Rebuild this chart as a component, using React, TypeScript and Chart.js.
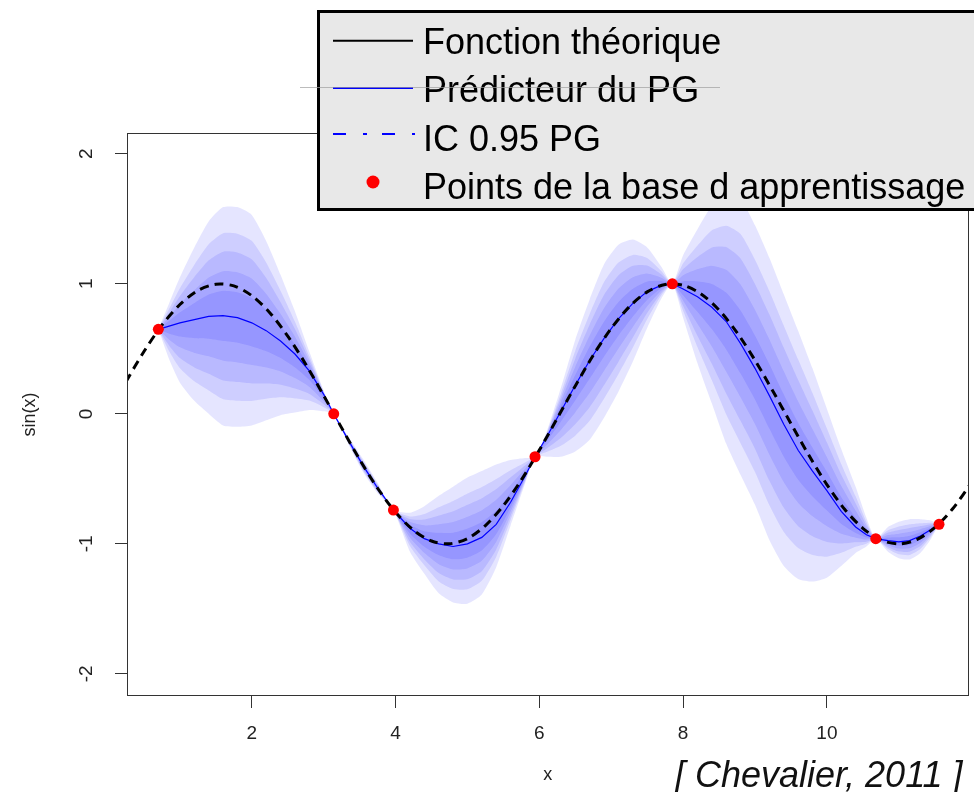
import { useEffect, useRef } from 'react';
import { Chart, registerables } from 'chart.js';

Chart.register(...registerables);

// Theoretical function sin(x), values read along x
const trueX = [0, 0.25, 0.5, 0.75, 1.0, 1.25, 1.5, 1.75, 2.0, 2.25, 2.5, 2.75, 3.0, 3.25, 3.5, 3.75, 4.0, 4.25, 4.5, 4.75, 5.0, 5.25, 5.5, 5.75, 6.0, 6.25, 6.5, 6.75, 7.0, 7.25, 7.5, 7.75, 8.0, 8.25, 8.5, 8.75, 9.0, 9.25, 9.5, 9.75, 10.0, 10.25, 10.5, 10.75, 11.0, 11.25, 11.5, 11.75, 12.0, 12.25];
const trueY = [0, 0.247, 0.479, 0.682, 0.841, 0.949, 0.997, 0.984, 0.909, 0.778, 0.598, 0.382, 0.141, -0.108, -0.351, -0.572, -0.757, -0.895, -0.978, -0.999, -0.959, -0.859, -0.706, -0.508, -0.279, -0.033, 0.215, 0.451, 0.657, 0.823, 0.938, 0.995, 0.989, 0.922, 0.798, 0.625, 0.412, 0.174, -0.075, -0.319, -0.544, -0.736, -0.88, -0.97, -1.0, -0.967, -0.875, -0.73, -0.537, -0.33];

// Learning points
const obsX = [0.7, 3.14, 3.97, 5.94, 7.85, 10.68, 11.56];
const obsY = [0.65, 0.0, -0.74, -0.33, 1.0, -0.96, -0.85];

// GP predictor and outer (95%) envelope
const gridX = [0.7, 0.85, 1.0, 1.2, 1.4, 1.6, 1.8, 2.0, 2.2, 2.4, 2.6, 2.8, 3.0, 3.14,
  3.35, 3.55, 3.75, 3.97,
  4.2, 4.4, 4.6, 4.8, 5.0, 5.2, 5.4, 5.6, 5.8, 5.94,
  6.1, 6.3, 6.5, 6.7, 6.9, 7.1, 7.3, 7.5, 7.7, 7.85,
  8.0, 8.2, 8.4, 8.6, 8.8, 9.0, 9.2, 9.4, 9.6, 9.8, 10.0, 10.2, 10.4, 10.55, 10.68,
  10.85, 11.0, 11.15, 11.3, 11.45, 11.56];
const meanY = [0.65, 0.675, 0.7, 0.725, 0.75, 0.755, 0.74, 0.7, 0.64, 0.56, 0.46, 0.33, 0.15, 0.0,
  -0.21, -0.4, -0.57, -0.74,
  -0.88, -0.96, -1.0, -1.02, -1.0, -0.95, -0.85, -0.68, -0.48, -0.33,
  -0.18, 0.02, 0.22, 0.41, 0.58, 0.73, 0.85, 0.94, 0.99, 1.0,
  0.96, 0.9, 0.82, 0.71, 0.54, 0.35, 0.14, -0.08, -0.28, -0.44, -0.59, -0.75, -0.87, -0.93, -0.96,
  -0.975, -0.985, -0.975, -0.94, -0.89, -0.85];
const upperY = [0.65, 0.85, 1.05, 1.28, 1.48, 1.59, 1.59, 1.53, 1.33, 1.07, 0.79, 0.48, 0.18, 0.0,
  -0.18, -0.35, -0.53, -0.74,
  -0.76, -0.71, -0.63, -0.56, -0.49, -0.44, -0.39, -0.355, -0.34, -0.33,
  -0.14, 0.2, 0.57, 0.88, 1.15, 1.3, 1.34, 1.28, 1.13, 1.0,
  1.22, 1.42, 1.6, 1.68, 1.65, 1.45, 1.2, 0.92, 0.64, 0.35, 0.04, -0.27, -0.56, -0.8, -0.96,
  -0.87, -0.83, -0.81, -0.81, -0.82, -0.85];
const lowerY = [0.65, 0.42, 0.24, 0.1, 0.0, -0.09, -0.1, -0.09, -0.05, -0.01, 0.01, 0.03, 0.02, 0.0,
  -0.24, -0.45, -0.61, -0.74,
  -1.06, -1.23, -1.38, -1.45, -1.46, -1.39, -1.18, -0.86, -0.54, -0.33,
  -0.33, -0.33, -0.29, -0.2, -0.03, 0.17, 0.4, 0.66, 0.89, 1.0,
  0.74, 0.39, 0.08, -0.23, -0.47, -0.7, -0.97, -1.17, -1.27, -1.29, -1.26, -1.17, -1.07, -1.02, -0.96,
  -1.06, -1.11, -1.12, -1.07, -0.96, -0.85];

// Nested shaded bands, as fractions of the outer envelope
const bandFractions = [1, 0.76, 0.59, 0.41, 0.23];

const xTicks = [2, 4, 6, 8, 10];
const yTicks = [-2, -1, 0, 1, 2];
const legendLabels = ['Fonction théorique', 'Prédicteur du PG', 'IC 0.95 PG', 'Points de la base d apprentissage'];
const xTitle = 'x';
const yTitle = 'sin(x)';
const caption = '[ Chevalier, 2011 ]';

const FONT = '"Liberation Sans", Arial, sans-serif';

const overlayPlugin = {
  id: 'overlay',
  afterDraw(chart: any) {
    const { ctx, chartArea: a } = chart;
    ctx.save();
    // plot box
    ctx.strokeStyle = '#333';
    ctx.lineWidth = 1;
    ctx.strokeRect(Math.round(a.left) + 0.5, Math.round(a.top) + 0.5, Math.round(a.right - a.left) - 1, Math.round(a.bottom - a.top) - 1);

    // axis titles
    ctx.fillStyle = '#222';
    ctx.font = `18px ${FONT}`;
    ctx.textAlign = 'center';
    ctx.textBaseline = 'middle';
    ctx.fillText(xTitle, (a.left + a.right) / 2, 775);
    ctx.save();
    ctx.translate(30, (a.top + a.bottom) / 2);
    ctx.rotate(-Math.PI / 2);
    ctx.fillText(yTitle, 0, 0);
    ctx.restore();

    // caption
    ctx.fillStyle = '#111';
    ctx.font = `italic 36px ${FONT}`;
    ctx.textAlign = 'left';
    ctx.textBaseline = 'alphabetic';
    ctx.fillText(caption, 675, 787);

    // legend box
    ctx.fillStyle = '#e8e8e8';
    ctx.fillRect(318, 11, 700, 199);
    ctx.strokeStyle = '#000';
    ctx.lineWidth = 3;
    ctx.strokeRect(318.5, 11.5, 700, 198);

    const lineY = [40.7, 88, 134, 182];
    const baseY = [54, 102, 150.5, 199];
    // row 1: black line
    ctx.lineWidth = 2;
    ctx.setLineDash([]);
    ctx.strokeStyle = '#000';
    ctx.beginPath(); ctx.moveTo(333, lineY[0]); ctx.lineTo(413, lineY[0]); ctx.stroke();
    // row 2: blue line
    ctx.strokeStyle = '#0000ff';
    ctx.beginPath(); ctx.moveTo(333, lineY[1]); ctx.lineTo(413, lineY[1]); ctx.stroke();
    // row 3: blue dash-dot
    ctx.setLineDash([13, 17, 4, 15]);
    ctx.beginPath(); ctx.moveTo(333, lineY[2]); ctx.lineTo(415, lineY[2]); ctx.stroke();
    ctx.setLineDash([]);
    // row 4: red dot
    ctx.fillStyle = '#ff0000';
    ctx.beginPath(); ctx.arc(373, lineY[3], 6.5, 0, Math.PI * 2); ctx.fill();

    ctx.fillStyle = '#000';
    ctx.font = `36px ${FONT}`;
    legendLabels.forEach((t, i) => ctx.fillText(t, 423, baseY[i]));

    // faint horizontal rule crossing the legend
    ctx.strokeStyle = 'rgba(160,160,160,0.7)';
    ctx.lineWidth = 1;
    ctx.beginPath(); ctx.moveTo(300, 87.5); ctx.lineTo(720, 87.5); ctx.stroke();
    ctx.restore();
  },
};

export default function App() {
  const ref = useRef<HTMLCanvasElement | null>(null);

  useEffect(() => {
    if (!ref.current) return;
    const datasets: any[] = [];
    datasets.push({
      label: 'points',
      data: obsX.map((x, i) => ({ x, y: obsY[i] })),
      showLine: false,
      pointRadius: 5.5,
      pointBackgroundColor: '#ff0000',
      pointBorderWidth: 0,
      pointBorderColor: '#ff0000',
      order: 0,
    });
    datasets.push({
      label: 'true',
      data: trueX.map((x, i) => ({ x, y: trueY[i] })),
      borderColor: '#000',
      borderWidth: 3,
      borderDash: [9, 6],
      pointRadius: 0,
      tension: 0.3,
      fill: false,
      order: 1,
    });
    datasets.push({
      label: 'mean',
      data: gridX.map((x, i) => ({ x, y: meanY[i] })),
      borderColor: '#0000ff',
      borderWidth: 1.2,
      pointRadius: 0,
      tension: 0,
      fill: false,
      order: 2,
    });
    bandFractions.forEach((f, k) => {
      datasets.push({
        label: 'up' + k,
        data: gridX.map((x, i) => ({ x, y: meanY[i] + f * (upperY[i] - meanY[i]) })),
        borderColor: 'rgba(0,0,0,0)',
        borderWidth: 0,
        pointRadius: 0,
        tension: 0.2,
        fill: '+1',
        backgroundColor: 'rgba(0,0,255,0.1)',
        order: 3 + k,
      });
      datasets.push({
        label: 'lo' + k,
        data: gridX.map((x, i) => ({ x, y: meanY[i] + f * (lowerY[i] - meanY[i]) })),
        borderColor: 'rgba(0,0,0,0)',
        borderWidth: 0,
        pointRadius: 0,
        tension: 0.2,
        fill: false,
        order: 3 + k,
      });
    });

    const chart = new Chart(ref.current, {
      type: 'line',
      data: { datasets },
      options: {
        animation: false,
        responsive: false,
        events: [],
        layout: { padding: { left: 0, right: 4, top: 133, bottom: 0 } },
        plugins: { legend: { display: false }, tooltip: { enabled: false } },
        scales: {
          x: {
            type: 'linear',
            min: 0.264,
            max: 11.97,
            afterFit: (s: any) => { s.height = 96; },
            afterBuildTicks: (s: any) => { s.ticks = xTicks.map((v) => ({ value: v })); },
            ticks: {
              font: { family: FONT, size: 19 },
              color: '#222',
              padding: 14,
              maxRotation: 0,
              callback: (v: any) => String(v),
            },
            grid: { drawOnChartArea: false, drawTicks: true, tickLength: 12, color: '#333', tickColor: '#333' },
            border: { display: false },
          },
          y: {
            type: 'linear',
            min: -2.17,
            max: 2.16,
            afterFit: (s: any) => { s.width = 127; },
            afterBuildTicks: (s: any) => { s.ticks = yTicks.map((v) => ({ value: v })); },
            ticks: {
              font: { family: FONT, size: 19 },
              color: '#222',
              padding: 20,
              minRotation: 90,
              maxRotation: 90,
              crossAlign: 'center',
              callback: (v: any) => String(v),
            },
            grid: { drawOnChartArea: false, drawTicks: true, tickLength: 12, color: '#333', tickColor: '#333' },
            border: { display: false },
          },
        },
      } as any,
      plugins: [overlayPlugin],
    });
    return () => chart.destroy();
  }, []);

  return (
    <div style={{ position: 'absolute', left: 0, top: 0, width: 974, height: 792 }}>
      <canvas ref={ref} width={974} height={792} style={{ display: 'block' }} />
    </div>
  );
}
